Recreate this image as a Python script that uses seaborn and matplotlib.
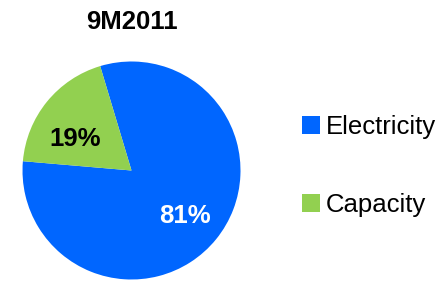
import matplotlib
matplotlib.use("Agg")
import matplotlib.pyplot as plt
import seaborn as sns
from matplotlib.patches import Patch

sns.set_theme(style="white")
plt.rcParams['font.family'] = ['Liberation Sans', 'DejaVu Sans']
plt.rcParams['text.color'] = 'black'

title = "9M2011"
categories = ["Electricity", "Capacity"]
values = [81, 19]
colors = ["#0066FF", "#92D050"]
label_colors = ["white", "black"]

W, H = 447, 281
fig = plt.figure(figsize=(W / 100, H / 100), dpi=100)
cx, cy, r = 131.5, 170.5, 109
ax = fig.add_axes([(cx - r) / W, (H - cy - r) / H, 2 * r / W, 2 * r / H])

wedges, texts, autotexts = ax.pie(
    values, colors=colors, startangle=175.1, counterclock=True,
    autopct=lambda p: f"{p:.0f}%", pctdistance=0.64,
    wedgeprops=dict(linewidth=0),
    textprops=dict(fontsize=18.5, fontweight='bold'))
for t, c in zip(autotexts, label_colors):
    t.set_color(c)
autotexts[1].set_position((-0.52, 0.29))
autotexts[0].set_position((0.49, -0.42))

ax.set_xlim(-1, 1)
ax.set_ylim(-1, 1)
ax.set_aspect('equal')
ax.axis('off')

fig.text(cx / W, 1 - 22 / H, title, ha='center', va='center',
         fontsize=18.5, fontweight='bold', color='black')

handles = [Patch(facecolor=c, edgecolor='none') for c in colors]
leg = fig.legend(handles, categories, loc='center left',
                 bbox_to_anchor=(302 / W, 1 - 166 / H),
                 frameon=False, fontsize=18.5, handlelength=0.7, handleheight=0.7,
                 handletextpad=0.22, labelspacing=2.1, borderaxespad=0, borderpad=0)
for t in leg.get_texts():
    t.set_color('black')

fig.savefig("out.png", dpi=100)
